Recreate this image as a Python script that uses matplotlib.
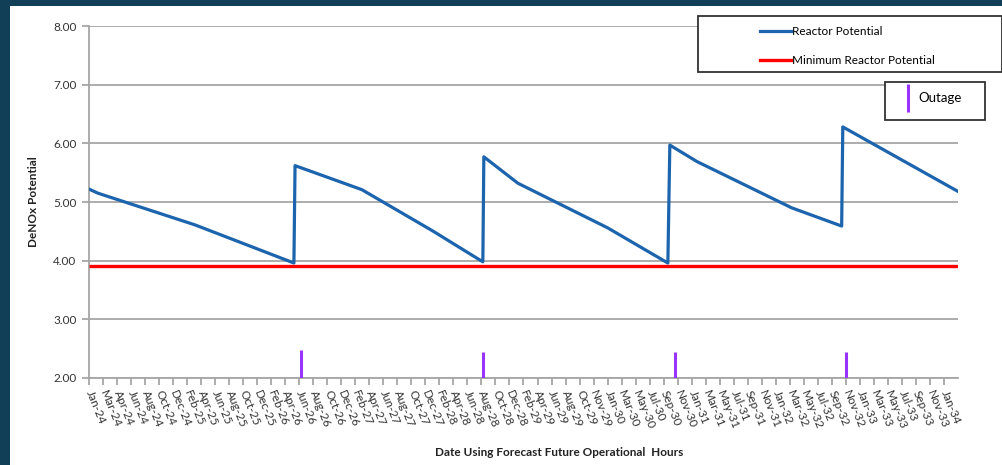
import matplotlib
matplotlib.use("Agg")
import matplotlib.pyplot as plt
from matplotlib.lines import Line2D
from matplotlib.patches import Rectangle

plt.rcParams['font.family'] = ['Lato', 'DejaVu Sans']

# month labels along the operational-hours axis
month_labels = ['Jan-24', 'Mar-24', 'Apr-24', 'Jun-24', 'Aug-24', 'Oct-24', 'Dec-24',
                'Feb-25', 'Apr-25', 'Jun-25', 'Aug-25', 'Oct-25', 'Dec-25',
                'Feb-26', 'Apr-26', 'Jun-26', 'Aug-26', 'Oct-26', 'Dec-26',
                'Feb-27', 'Apr-27', 'Jun-27', 'Aug-27', 'Oct-27', 'Dec-27',
                'Feb-28', 'Apr-28', 'Jun-28', 'Aug-28', 'Oct-28', 'Dec-28',
                'Feb-29', 'Apr-29', 'Jun-29', 'Aug-29', 'Oct-29', 'Nov-29',
                'Jan-30', 'Mar-30', 'May-30', 'Jul-30', 'Sep-30', 'Nov-30',
                'Jan-31', 'Mar-31', 'May-31', 'Jul-31', 'Sep-31', 'Nov-31',
                'Jan-32', 'Mar-32', 'May-32', 'Jul-32', 'Sep-32', 'Nov-32',
                'Jan-33', 'Mar-33', 'May-33', 'Jul-33', 'Sep-33', 'Nov-33', 'Jan-34']

# reactor potential (position measured in label steps)
pot_x = [0, 0.64, 7.56, 14.62, 14.7, 19.47, 24.5, 28.1, 28.17, 30.6, 37.0,
         41.3, 41.44, 43.37, 50.14, 53.7, 53.78, 62]
pot_y = [5.22, 5.15, 4.61, 3.96, 5.62, 5.21, 4.51, 3.98, 5.77, 5.32, 4.56,
         3.96, 5.97, 5.69, 4.90, 4.59, 6.28, 5.18]

min_potential = 3.91

# outages
outage_x = [15.12, 28.1, 41.8, 54.0]
outage_top = [2.47, 2.44, 2.45, 2.45]

W, H = 1003, 465
fig = plt.figure(figsize=(W / 100, H / 100), dpi=100)
fig.patch.set_facecolor('white')

navy = '#123f58'
fig.add_artist(Rectangle((0, 0), 10 / W, 1, transform=fig.transFigure,
                         facecolor=navy, edgecolor='none', zorder=0))
fig.add_artist(Rectangle((0, 1 - 6 / H), 1, 6 / H, transform=fig.transFigure,
                         facecolor=navy, edgecolor='none', zorder=0))

ax = fig.add_axes([89 / W, 1 - 378 / H, (958 - 89) / W, (378 - 26) / H])
ax.set_facecolor('none')

ax.plot([0, 62], [min_potential, min_potential], color='#ff0000', lw=2.4,
        solid_capstyle='butt', zorder=3)
ax.plot(pot_x, pot_y, color='#1c64ad', lw=2.3, zorder=4)
ax.vlines(outage_x, 2.0, outage_top, color='#9933ff', lw=2.2, zorder=5)

ax.set_xlim(0, 62)
ax.set_ylim(2, 8)
ax.set_yticks([2, 3, 4, 5, 6, 7, 8])
ax.set_yticklabels(['%.2f' % v for v in [2, 3, 4, 5, 6, 7, 8]])
ax.set_xticks(range(len(month_labels)))
ax.set_xticklabels(month_labels, rotation=-68, ha='left', va='center',
                   rotation_mode='anchor')

ax.grid(axis='y', color='#a6a6a6', lw=1.3)
ax.set_axisbelow(True)
for side in ['top', 'right']:
    ax.spines[side].set_visible(False)
for side in ['left', 'bottom']:
    ax.spines[side].set_color('#a6a6a6')
    ax.spines[side].set_linewidth(1.3)
ax.tick_params(axis='both', colors='#a6a6a6', width=1.3, length=5,
               labelcolor='#333333', labelsize=8.5)
ax.tick_params(axis='x', pad=4)
ax.tick_params(axis='y', pad=4)

ax.set_ylabel('DeNOx Potential', fontsize=8.5, fontweight='bold', color='#222222')
ax.yaxis.set_label_coords(-0.058, 0.5)
ax.set_xlabel('Date Using Forecast Future Operational  Hours', fontsize=8.5,
              fontweight='bold', color='#222222')
ax.xaxis.set_label_coords(0.541, -0.195)

# legend frames
fig.add_artist(Rectangle((698 / W, 1 - 72 / H), (1002 - 698) / W, 56 / H,
                         transform=fig.transFigure, facecolor='white',
                         edgecolor='#333333', lw=1.3, zorder=6))
fig.add_artist(Rectangle((885 / W, 1 - 120 / H), 100 / W, 38 / H,
                         transform=fig.transFigure, facecolor='white',
                         edgecolor='#333333', lw=1.3, zorder=6))

h1 = [Line2D([], [], color='#1c64ad', lw=2.3),
      Line2D([], [], color='#ff0000', lw=2.4)]
leg1 = fig.legend(h1, ['Reactor Potential', 'Minimum Reactor Potential'],
                  loc='upper left', bbox_to_anchor=(752 / W, 1 - 18 / H),
                  frameon=False, fontsize=8.5, handlelength=2.6,
                  handletextpad=0.1, labelspacing=1.5, borderpad=0.2)
leg1.set_zorder(7)

h2 = [Line2D([], [], color='#9933ff', marker='|', ms=20, mew=2.2, ls='none')]
leg2 = fig.legend(h2, ['Outage'], loc='upper left',
                  bbox_to_anchor=(893 / W, 1 - 83 / H), frameon=False,
                  fontsize=9.5, handlelength=0.8, handletextpad=0.4, borderpad=0.2)
leg2.set_zorder(7)

fig.savefig('out.png', dpi=100)
